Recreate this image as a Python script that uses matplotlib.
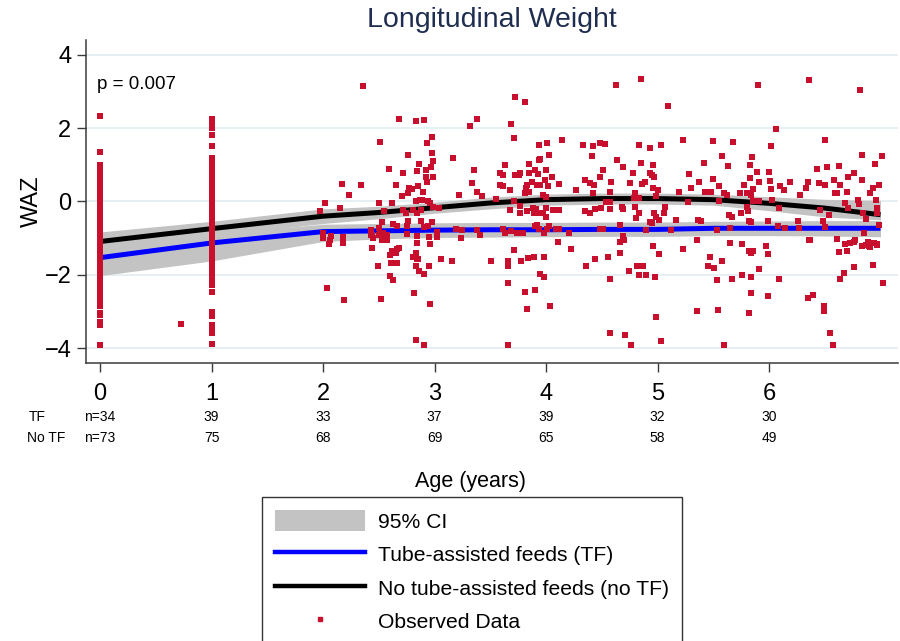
import matplotlib
matplotlib.use("Agg")
import matplotlib.pyplot as plt
from matplotlib.patches import Patch
from matplotlib.lines import Line2D
from matplotlib.transforms import blended_transform_factory

plt.rcParams['font.family'] = ['Liberation Sans', 'DejaVu Sans']

# ---------------- data ----------------
title = "Longitudinal Weight"
xticks = [0, 1, 2, 3, 4, 5, 6]
yticks = [-4, -2, 0, 2, 4]
n_tf = ["n=34", "39", "33", "37", "39", "32", "30"]
n_notf = ["n=73", "75", "68", "69", "65", "58", "49"]

fit_age = [0, 1, 2, 2.5, 3, 3.5, 4, 4.5, 5, 5.5, 6, 6.5, 7.0]
notf_mean = [-1.09, -0.74, -0.40, -0.30, -0.17, -0.04, 0.05, 0.08, 0.08, 0.05, -0.05, -0.18, -0.36]
notf_hi = [-0.83, -0.54, -0.20, -0.13, -0.02, 0.12, 0.20, 0.23, 0.23, 0.20, 0.13, 0.06, 0.03]
notf_lo = [-1.35, -0.94, -0.60, -0.47, -0.32, -0.20, -0.10, -0.07, -0.07, -0.10, -0.25, -0.42, -0.50]
tf_mean = [-1.53, -1.13, -0.82, -0.80, -0.78, -0.77, -0.77, -0.76, -0.76, -0.73, -0.73, -0.73, -0.73]
tf_hi = [-1.25, -0.88, -0.62, -0.60, -0.58, -0.57, -0.57, -0.56, -0.56, -0.54, -0.53, -0.52, -0.52]
tf_lo = [-2.02, -1.62, -1.09, -1.02, -0.98, -0.97, -0.96, -0.95, -0.95, -0.93, -0.93, -0.94, -0.96]

# observed WAZ at the baseline (age 0) and 1-year visits
visit0_waz = [2.32, 1.34, 1.00, 0.92, 0.82, 0.68, 0.60, 0.52, 0.43, 0.35, 0.27, 0.18, 0.10,
              0.02, -0.07, -0.15, -0.24, -0.32, -0.41, -0.50, -0.58, -0.66, -0.75, -0.84,
              -0.92, -1.01, -1.10, -1.18, -1.27, -1.36, -1.44, -1.53, -1.62, -1.70, -1.79,
              -1.88, -1.95, -2.04, -2.13, -2.22, -2.31, -2.40, -2.49, -2.57, -2.66, -2.75,
              -2.86, -3.03, -3.10, -3.27, -3.36, -3.90]
visit1_waz = [2.25, 2.14, 2.00, 1.82, 1.50, 1.18, 1.10, 1.02, 0.95, 0.82, 0.75, 0.68, 0.55,
              0.47, 0.38, 0.30, 0.21, 0.13, 0.04, -0.05, -0.13, -0.22, -0.31, -0.39, -0.48,
              -0.57, -0.65, -0.74, -0.83, -0.91, -1.00, -1.09, -1.17, -1.26, -1.35, -1.43,
              -1.52, -1.61, -1.69, -1.78, -1.87, -1.95, -2.04, -2.13, -2.21, -2.27, -2.47,
              -3.00, -3.13, -3.36, -3.47, -3.59, -3.88]

# observed WAZ at the other visits (age, WAZ)
obs_age = [0.73,
    2.36, 2.51, 2.68, 2.83, 2.91, 2.98, 2.93, 2.76, 2.98, 2.99, 2.59, 2.72, 2.86, 2.84, 2.92, 2.97,
    2.92, 2.99, 2.93, 2.65, 2.34, 2.17, 2.23, 2.77, 2.80, 2.85, 2.90, 2.71, 2.76, 2.87, 2.83, 2.89,
    2.50, 2.62, 2.02, 2.15, 1.97, 2.55, 2.72, 2.74, 2.81, 2.84, 2.88, 2.94, 2.96, 2.99, 3.04, 2.53,
    2.63, 2.66, 2.76, 2.88, 2.91, 2.98, 2.43, 2.50, 2.75, 2.94, 3.02, 2.00, 2.07, 2.18, 2.44, 2.51,
    2.54, 2.57, 2.84, 2.95,
    2.00, 2.06, 2.05, 2.18, 2.43, 2.45, 2.50, 2.53, 2.56, 2.57, 2.44, 2.49, 2.60, 2.62, 2.65, 2.66,
    2.68, 2.61, 2.66, 2.60, 2.63, 2.75, 2.83, 2.84, 2.81, 2.84, 2.85, 2.83, 2.86, 2.91, 2.95, 2.96,
    3.06, 2.82, 2.96, 2.83, 2.91, 2.04, 2.19, 2.52, 3.02,
    3.17, 3.32, 3.38, 3.22, 3.34, 3.35, 3.38, 3.43, 3.55, 3.59, 3.61, 3.63, 3.59, 3.61, 3.68, 3.69,
    3.71, 3.72, 3.81, 3.72, 3.76, 3.77, 3.85, 3.85, 3.83, 3.87, 3.85, 3.81, 3.82, 3.90, 3.93, 3.94,
    3.95, 3.94, 4.01, 4.03, 4.00, 3.99, 3.95, 3.92, 4.02, 3.97, 4.00, 4.05, 4.12, 4.14, 4.27, 4.33,
    4.35, 4.41, 4.42, 4.48, 4.53, 4.63, 4.64, 4.69, 4.39, 4.43, 4.42, 4.51, 4.48, 4.58, 4.57, 4.75,
    4.78, 4.83, 4.85, 4.93, 4.85, 4.93, 4.95, 4.96, 4.97, 4.86, 4.89, 4.96, 5.00, 4.80, 4.79, 4.83,
    4.99, 5.03, 5.09, 5.19, 5.23, 5.28, 5.30, 5.37, 5.42, 5.43, 5.48, 5.50, 5.50, 5.55, 5.58, 5.60,
    5.63, 5.68, 5.62, 5.74, 5.78, 5.80, 5.83, 5.83, 5.85, 5.86, 5.84, 5.89, 5.90, 5.91, 6.00, 6.01,
    6.02, 6.06, 6.02, 6.10, 6.13, 6.19, 6.28, 6.33, 6.35, 6.36, 6.43, 6.45, 6.50, 6.50, 6.52, 6.58,
    6.59, 6.61, 6.63, 6.64, 6.70, 6.71, 6.76, 6.80, 6.81, 6.82, 6.83, 6.83, 6.91, 6.93, 6.95, 6.96,
    6.99, 7.01, 6.97, 6.46,
    3.24, 3.19, 3.25, 3.38, 3.41, 3.61, 3.63, 3.68, 3.69, 3.71, 3.74, 3.77, 3.77, 3.79, 3.83, 3.88,
    3.89, 3.91, 3.90, 3.92, 3.94, 3.95, 3.97, 4.00, 4.00, 3.98, 4.01, 4.03, 4.06, 4.09, 4.12, 4.12,
    4.11, 4.21, 4.35, 4.39, 4.44, 4.49, 4.48, 4.51, 4.54, 4.57, 4.57, 4.66, 4.68, 4.69, 4.69, 4.70,
    4.80, 4.81, 4.83, 4.90, 4.93, 4.95, 4.97, 4.99, 5.01, 5.06, 5.07, 5.12, 5.17, 5.27, 5.35, 5.36,
    5.39, 5.53, 5.55, 5.64, 5.67, 5.65, 5.75, 5.80, 5.81, 5.82, 5.84, 5.86, 5.91, 5.99, 6.03, 6.08,
    6.09, 6.14, 6.26, 6.27, 6.36, 6.48, 6.50, 6.54, 6.61, 6.68, 6.71, 6.73, 6.77, 6.84, 6.85, 6.87,
    6.89, 6.90, 6.94, 6.97, 6.97, 6.99,
    3.16, 3.51, 3.66, 3.66, 3.66, 3.71, 3.78, 3.84, 3.89, 3.81, 3.90, 3.83, 3.98, 3.95, 3.98, 4.04,
    3.66, 4.36, 4.44, 4.56, 4.57, 4.57, 4.66, 4.71, 4.76, 4.74, 4.82, 4.83, 4.87, 4.90, 4.98, 4.96,
    5.01, 4.99, 5.03, 5.23, 5.35, 5.35, 5.45, 5.47, 5.51, 5.53, 5.58, 5.54, 5.60, 5.65, 5.67, 5.76,
    5.76, 5.82, 5.84, 5.84, 5.86, 5.84, 5.82, 5.91, 5.97, 5.99, 5.99, 6.09, 6.35, 6.39, 6.37, 6.49,
    6.49, 6.55, 6.57, 6.61, 6.63, 6.64, 6.67, 6.68, 6.70, 6.76, 6.76, 6.83, 6.87, 6.89, 6.91, 6.93,
    6.97, 7.02, 4.66, 4.22]
obs_waz = [-3.33,
    3.15, 1.63, 2.24, 2.18, 2.21, 1.77, 1.59, 1.27, 1.32, 1.11, 0.88, 0.79, 1.02, 0.82, 0.86, 0.95,
    0.68, 0.68, 0.52, 0.46, 0.46, 0.48, 0.18, 0.37, 0.35, 0.41, 0.25, 0.14, 0.23, 0.05, 0.00, 0.05,
    -0.04, -0.04, -0.04, -0.18, -0.27, -0.25, -0.24, -0.30, -0.24, -0.30, -0.22, 0.00, -0.05, -0.15, -0.18, -0.57,
    -0.60, -0.68, -0.54, -0.54, -0.70, -0.57, -0.77, -0.73, -0.68, -0.68, -0.82, -0.87, -0.93, -0.98, -0.92, -0.86,
    -0.87, -0.90, -0.95, -0.98,
    -1.00, -1.05, -1.17, -1.12, -0.90, -1.00, -0.90, -1.04, -0.95, -1.05, -1.26, -1.75, -1.45, -1.35, -1.39, -1.30,
    -1.26, -1.68, -1.68, -2.04, -2.13, -0.88, -1.39, -1.12, -1.52, -1.57, -1.58, -1.77, -1.90, -1.97, -1.77, -1.15,
    -1.58, -2.50, -2.78, -3.77, -3.90, -2.35, -2.68, -2.65, -0.98,
    1.18, 2.06, 2.24, 0.18, 0.50, 0.85, 0.26, 0.15, 0.08, 0.79, 0.72, 1.00, 0.45, 0.43, 0.32, 2.11,
    1.72, 2.84, 2.70, 0.72, 0.72, 0.77, 1.02, 0.79, 0.45, 0.54, 0.25, 0.23, 0.36, 0.85, 0.76, 1.14,
    1.16, 1.54, 1.60, 1.27, 0.86, 0.59, 0.45, 0.45, 0.41, 0.18, 0.11, 0.68, 0.48, 1.68, 0.30, 1.54,
    0.59, 1.25, 1.52, 1.59, 1.57, 3.18, 1.14, 0.94, 0.50, 0.45, 0.24, 0.85, 0.68, 0.54, 0.25, 0.50,
    0.79, 1.54, 3.33, 1.45, 1.04, 0.77, 0.72, 0.99, 0.68, 0.47, 0.52, 0.36, 0.32, 0.23, 0.09, 0.09,
    0.14, 1.54, 2.59, 0.27, 1.68, 0.76, 0.36, 0.54, 1.04, 0.27, 0.27, 1.65, 0.61, 0.43, 1.25, 0.24,
    0.96, 1.63, 0.18, 0.24, 0.45, 0.24, 0.99, 0.63, 1.22, 0.34, 0.18, 0.81, 3.18, 0.54, 0.81, 0.56,
    1.50, 1.97, 0.34, 0.41, 0.30, 0.54, 0.18, 0.36, 0.52, 3.30, 0.88, 0.50, 1.68, 0.45, 0.95, 0.59,
    0.24, 0.24, 0.96, 0.45, 0.27, 0.66, 0.79, 0.05, -0.06, 3.05, 1.27, 0.59, 0.24, 0.38, 1.02, 0.05,
    0.45, 1.25, -0.18, -0.24,
    -1.00, -0.75, -0.77, -0.77, -0.90, -0.75, -0.86, -0.23, -0.81, 0.00, -0.86, -0.13, -0.32, -0.86, -0.27, -0.18,
    -0.32, -0.20, -0.66, -0.63, -0.75, -0.30, -0.32, -0.18, -0.41, -0.86, -0.75, -0.68, -0.23, -0.75, -0.23, -0.75,
    -1.09, -0.86, -0.27, -0.32, -0.20, -0.18, -0.75, -0.75, -0.02, -0.02, -0.20, -0.63, -0.14, -0.20, -0.95, -1.06,
    -0.14, -0.45, -0.32, -0.77, -0.57, -0.59, -0.32, -0.41, -0.50, -0.32, -0.16, -0.77, -0.50, -0.02, -1.04, -0.50,
    -0.54, -0.77, 0.02, -0.38, -0.41, -0.72, -0.32, -0.14, -0.27, -0.54, -0.57, 0.02, 0.02, -0.54, 0.05, -0.66,
    -0.18, -0.72, -0.54, -0.72, -1.04, -0.54, -0.70, -0.38, -1.02, -0.05, -0.18, -1.13, -1.04, -0.32, -0.86, -0.48,
    -1.09, -1.22, -1.13, -1.17, -0.32, -0.63,
    -1.63, -1.61, -1.63, -1.77, -2.21, -1.32, -1.61, -1.54, -1.52, -2.47, -2.41, -2.92, -1.50, -1.97, -2.06, -2.84,
    -3.90, -1.75, -1.57, -1.52, -2.12, -3.57, -1.39, -3.63, -3.90, -1.89, -1.77, -2.01, -1.77, -2.01, -2.06, -1.21,
    -1.43, -3.15, -3.81, -1.29, -1.06, -2.98, -1.75, -1.52, -1.81, -2.15, -1.63, -2.95, -3.90, -1.12, -2.10, -1.16,
    -2.01, -1.36, -2.06, -1.41, -1.34, -2.49, -3.04, -1.83, -1.21, -1.43, -2.58, -2.10, -2.64, -2.56, -1.06, -2.84,
    -2.99, -3.57, -3.90, -1.03, -1.38, -2.10, -1.94, -1.16, -1.35, -1.09, -1.78, -1.20, -1.19, -1.09, -1.25, -1.73,
    -1.19, -2.21, -1.09, -1.29]

# ---------------- figure ----------------
fig = plt.figure(figsize=(9, 6.41), dpi=100)
ax = fig.add_axes([0.0956, 0.4337, 0.9022, 0.5039])

band_col = '#c3c3c3'
dot_col = '#c8102e'
ax.fill_between(fit_age, notf_lo, notf_hi, color=band_col, lw=0, zorder=1)
ax.fill_between(fit_age, tf_lo, tf_hi, color=band_col, lw=0, zorder=1)
ax.plot(fit_age, notf_mean, color='black', lw=3.6, zorder=2, solid_capstyle='butt')
ax.plot(fit_age, tf_mean, color='#0000ff', lw=3.6, zorder=2, solid_capstyle='butt')

msize = 15
ax.scatter([0] * len(visit0_waz), visit0_waz, s=msize, marker='s', color=dot_col, lw=0, zorder=3)
ax.scatter([1] * len(visit1_waz), visit1_waz, s=msize, marker='s', color=dot_col, lw=0, zorder=3)
ax.scatter(obs_age, obs_waz, s=msize, marker='s', color=dot_col, lw=0, zorder=3)

ax.set_xlim(-0.1256, 7.157)
ax.set_ylim(-4.4, 4.4)
ax.set_xticks(xticks)
ax.set_yticks(yticks)
for y in yticks:
    ax.axhline(y, color='#e2ecef', lw=1.2, zorder=0)

for s in ['top', 'right']:
    ax.spines[s].set_visible(False)
for s in ['left', 'bottom']:
    ax.spines[s].set_color('#3a3a3a')
    ax.spines[s].set_linewidth(1.1)
ax.tick_params(axis='x', length=6.5, width=1.0, color='#3a3a3a', pad=8, labelsize=17)
ax.tick_params(axis='y', length=6.5, width=1.0, color='#3a3a3a', pad=4, labelsize=17)
ax.set_ylabel('WAZ', fontsize=17, labelpad=1)

ax.set_title(title, fontsize=20.5, color='#1f2d50', pad=9)
ax.text(-0.03, 3.2, 'p = 0.007', fontsize=13.5, va='center', ha='left')

# at-risk table
trans = blended_transform_factory(ax.transData, fig.transFigure)
narrow = ['Liberation Sans Narrow', 'Liberation Sans', 'DejaVu Sans']
fig.text(29 / 900, 1 - 417 / 641, 'TF', fontsize=10, va='center', ha='left', family=narrow)
fig.text(27 / 900, 1 - 438 / 641, 'No TF', fontsize=10, va='center', ha='left', family=narrow)
for x, a, b in zip(xticks, n_tf, n_notf):
    ax.text(x, 1 - 417 / 641, a, transform=trans, fontsize=10, va='center', ha='center', family=narrow)
    ax.text(x, 1 - 438 / 641, b, transform=trans, fontsize=10, va='center', ha='center', family=narrow)

fig.text(470 / 900, 1 - 481 / 641, 'Age (years)', fontsize=15.5, ha='center', va='center')

handles = [Patch(facecolor=band_col, edgecolor='none'),
           Line2D([], [], color='#0000ff', lw=3.2),
           Line2D([], [], color='black', lw=3.2),
           Line2D([], [], color=dot_col, marker='s', markersize=2.5, lw=0)]
labels = ['95% CI', 'Tube-assisted feeds (TF)', 'No tube-assisted feeds (no TF)', 'Observed Data']
leg = fig.legend(handles, labels, loc='upper left', bbox_to_anchor=(262 / 900, 1 - 497 / 641),
                 fontsize=15.2, frameon=True, fancybox=False, edgecolor='black',
                 handlelength=4.3, handleheight=1.2, labelspacing=0.55, borderpad=0.6,
                 handletextpad=0.6, borderaxespad=0)
leg.get_frame().set_linewidth(1.0)

fig.savefig('out.png', dpi=100)
